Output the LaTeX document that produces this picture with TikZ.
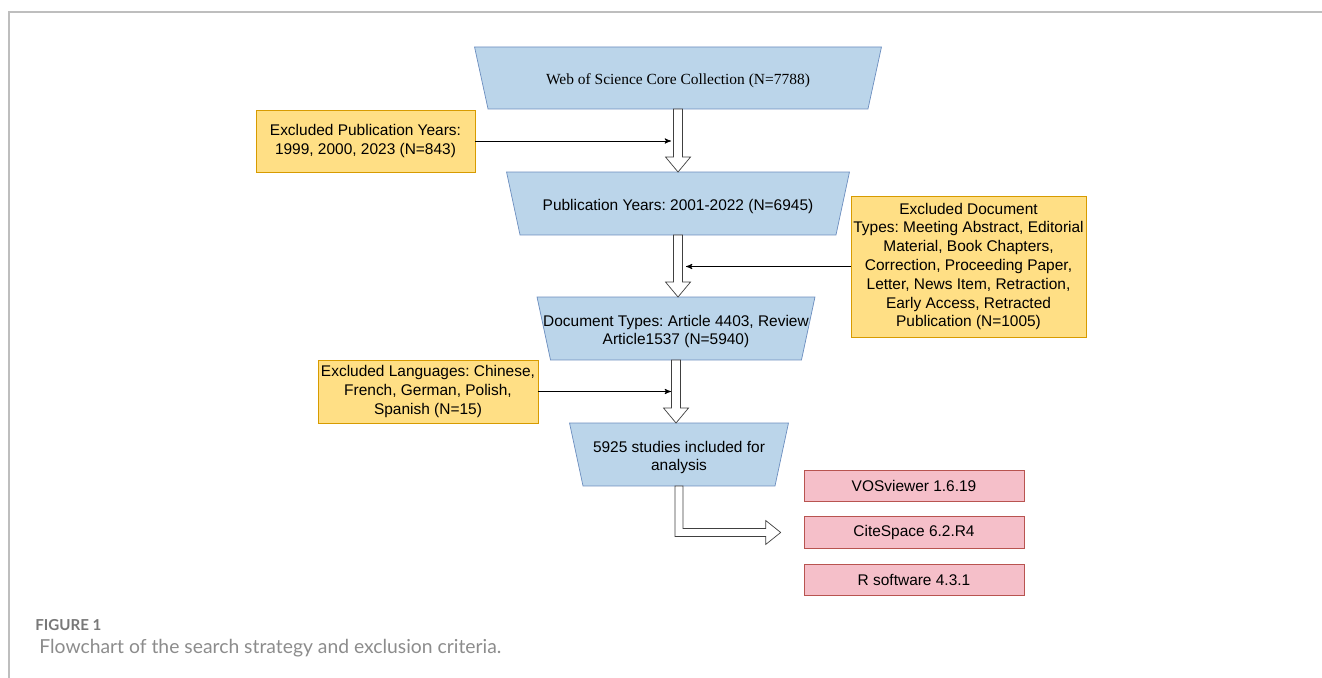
\documentclass[tikz,border=0pt]{standalone}
\usepackage{fontspec}
\setmainfont{Liberation Sans}
\newfontfamily\seriftext{Liberation Serif}
\newfontfamily\capfont{Lato}
\usepackage{tikz}
\usetikzlibrary{calc}
\usetikzlibrary{arrows}
\frenchspacing

\definecolor{boxblue}{RGB}{187,213,234}
\definecolor{lineblue}{RGB}{108,142,191}
\definecolor{boxyellow}{RGB}{255,223,133}
\definecolor{lineyellow}{RGB}{215,155,0}
\definecolor{boxpink}{RGB}{245,191,201}
\definecolor{linepink}{RGB}{184,84,80}
\definecolor{framegray}{RGB}{190,190,190}
\definecolor{capgray}{RGB}{120,120,120}

\pgfdeclarelayer{background}
\pgfsetlayers{background,main}

% funnel outline behind a stage node
\newcommand{\funnel}[1]{%
  \begin{pgfonlayer}{background}
  \draw[funnelbox] (#1.north west) -- (#1.north east) -- ($(#1.south east)+(-13.5,0)$) -- ($(#1.south west)+(13.5,0)$) -- cycle;
  \end{pgfonlayer}}

% hollow block arrow from one stage down to the next
\newcommand{\downflow}[2]{%
  \draw[hollow] ($(#1.south)+(-4.5,0)$) -- ($(#1.south |- #2.north)+(-4.5,-15)$)
     -- ($(#1.south |- #2.north)+(-12.5,-15)$) -- (#1.south |- #2.north)
     -- ($(#1.south |- #2.north)+(12.5,-15)$) -- ($(#1.south |- #2.north)+(4.5,-15)$)
     -- ($(#1.south)+(4.5,0)$) -- cycle;}

\begin{document}
\begin{tikzpicture}[>=stealth',x=0.02cm,y=-0.02cm,semithick]
\tikzstyle{stage}=[rectangle,draw=none,outer sep=0pt,inner sep=0pt,minimum height=1.26cm]
\tikzstyle{funnelbox}=[draw=lineblue,fill=boxblue]
\tikzstyle{excl}=[rectangle,draw=lineyellow,fill=boxyellow,align=center,inner sep=1pt]
\tikzstyle{tool}=[rectangle,draw=linepink,fill=boxpink,minimum width=4.4cm,minimum height=0.63cm]
\tikzstyle{hollow}=[draw=black!75,fill=white]
\tikzset{font=\fontsize{8.8pt}{10.7pt}\selectfont}

        \useasboundingbox (0,0) rectangle (1322,678);
        \draw[framegray,line width=1.2pt] (9,678) -- (9,12) -- (1322,12);

        \node[stage,minimum width=8.14cm,minimum height=1.24cm]       (wos)   at (678,78)      [label={[yshift=-0.06cm,font=\seriftext\fontsize{8.8pt}{10.7pt}\selectfont]center:Web of Science Core Collection (N=7788)}] {};
        \node[stage,minimum width=6.86cm]                              (years) at (678,203.5)   [label={[yshift=-0.06cm]center:Publication Years: 2001-2022 (N=6945)}] {};
        \node[stage,minimum width=5.56cm]                              (types) at (676,328.5)   [label={[yshift=-0.06cm,align=center]center:Document Types: Article 4403, Review\\Article1537 (N=5940)}] {};
        \node[stage,minimum width=4.38cm]                              (final) at (679,454.5)   [label={[yshift=-0.06cm,align=center]center:5925 studies included for\\analysis}] {};
        \funnel{wos}
        \funnel{years}
        \funnel{types}
        \funnel{final}

        \node[excl,minimum width=4.38cm,minimum height=1.24cm]         (exyears) at (365.5,141) {Excluded Publication Years:\\1999, 2000, 2023 (N=843)};
        \node[excl,minimum width=4.7cm,minimum height=2.82cm]          (extypes) at (968.5,266.5) {Excluded Document\\Types: Meeting Abstract, Editorial\\Material, Book Chapters,\\Correction, Proceeding Paper,\\Letter, News Item, Retraction,\\Early Access, Retracted\\Publication (N=1005)};
        \node[excl,minimum width=4.4cm,minimum height=1.26cm]          (exlang) at (428,391.5) {Excluded Languages: Chinese,\\French, German, Polish,\\Spanish (N=15)};

        \node[tool]                                     (vos)   at (914,486)  {VOSviewer 1.6.19};
        \node[tool,node distance=0.93cm]                (cite)  [below of=vos]  {CiteSpace 6.2.R4};
        \node[tool,node distance=0.95cm]                (rsoft) [below of=cite] {R software 4.3.1};

        \downflow{wos}{years}
        \downflow{years}{types}
        \downflow{types}{final}

        % bent arrow to the software boxes
        \draw[hollow] ($(final.south)+(-4,0)$) -- ($(final.south |- cite.west)+(-4,4)$)
            -- ($(cite.west)+(-38,4)$) -- ($(cite.west)+(-38,12)$) -- ($(cite.west)+(-23,0)$)
            -- ($(cite.west)+(-38,-12)$) -- ($(cite.west)+(-38,-4)$)
            -- ($(final.south |- cite.west)+(4,-4)$) -- ($(final.south)+(4,0)$) -- cycle;

        \coordinate (inyears) at (671,141);
        \coordinate (intypes) at (686,266.5);
        \coordinate (inlang)  at (671,391.5);

        \path[->,thin]
        (exyears)   edge node {}   (inyears)
        (extypes)   edge node {}   (intypes)
        (exlang)    edge node {}   (inlang)
        ; %end path

        \node[anchor=base west,inner sep=0pt,text=capgray,font=\capfont\bfseries\fontsize{8.6pt}{10pt}\selectfont] (fig) at (35,630) {FIGURE 1};
        \node[anchor=base west,inner sep=0pt,text=capgray!85,font=\capfont\fontsize{11pt}{13pt}\selectfont] (cap) at (39,653) {Flowchart of the search strategy and exclusion criteria.};

\end{tikzpicture}
\end{document}
